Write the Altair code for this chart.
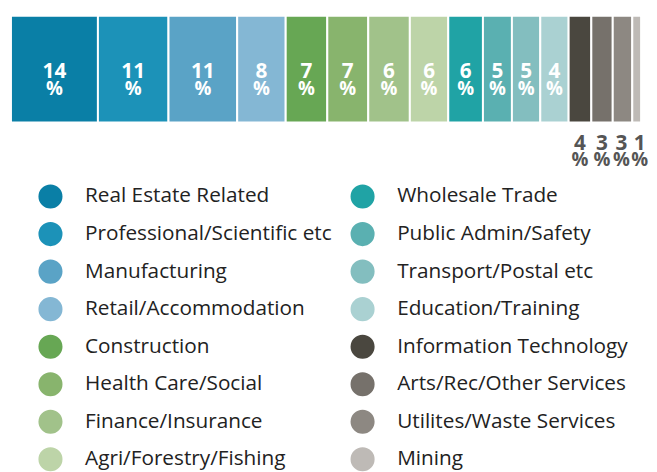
import altair as alt
import pandas as pd

sectors = [
    "Real Estate Related", "Professional/Scientific etc", "Manufacturing",
    "Retail/Accommodation", "Construction", "Health Care/Social",
    "Finance/Insurance", "Agri/Forestry/Fishing", "Wholesale Trade",
    "Public Admin/Safety", "Transport/Postal etc", "Education/Training",
    "Information Technology", "Arts/Rec/Other Services",
    "Utilites/Waste Services", "Mining",
]
shares = [13.8, 11.2, 10.9, 7.7, 6.6, 6.5, 6.6, 6.1, 5.5, 4.6, 4.5, 4.5,
          3.6, 3.4, 3.1, 1.4]
labels = [14, 11, 11, 8, 7, 7, 6, 6, 6, 5, 5, 4, 4, 3, 3, 1]
colors = [
    "#0a7fa6", "#1c92b8", "#5aa3c6", "#84b7d4", "#67a754", "#88b46d",
    "#a1c28a", "#bdd4a8", "#20a3a5", "#5ab0b1", "#83bebf", "#aad1d2",
    "#4a473f", "#76716b", "#8d8882", "#bebab6",
]

df = pd.DataFrame({
    "sector": sectors,
    "share": shares,
    "label": [str(v) for v in labels],
    "idx": list(range(len(sectors))),
})
df["col"] = df["idx"] // 8
df["row"] = df["idx"] % 8

total = sum(shares)
color_scale = alt.Scale(domain=sectors, range=colors)
xscale = alt.Scale(domain=[0, total], range=[3, 641], nice=False)

base = alt.Chart(df).transform_stack(
    stack="share", groupby=[], as_=["x0", "x1"],
    sort=[alt.SortField("idx", order="ascending")],
).transform_calculate(mid="(datum.x0 + datum.x1) / 2")

bars = base.mark_bar(stroke="white", strokeWidth=2).encode(
    x=alt.X("x0:Q", scale=xscale, axis=None),
    x2="x1:Q",
    y=alt.value(5),
    y2=alt.value(113),
    color=alt.Color("sector:N", scale=color_scale, legend=None),
)

inside = base.transform_filter("datum.idx < 12")

num_font = dict(font="Open Sans", fontWeight="bold", fontSize=21,
                baseline="middle", align="center")
pct_font = dict(font="Open Sans", fontWeight="bold", fontSize=19,
                baseline="middle", align="center")

num_in = inside.mark_text(color="white", **num_font).encode(
    x=alt.X("mid:Q", scale=xscale), y=alt.value(62), text="label:N")
pct_in = inside.mark_text(color="white", **pct_font).encode(
    x=alt.X("mid:Q", scale=xscale), y=alt.value(79), text=alt.value("%"))

layers = [bars, num_in, pct_in]
# small segments: labels sit below the bar, nudged apart slightly
for lo, hi, shift in [(12, 14, 0), (14, 15, -1), (15, 16, 3)]:
    sub = base.transform_filter(f"datum.idx >= {lo} && datum.idx < {hi}")
    layers.append(sub.mark_text(color="#555555", dx=shift, **num_font).encode(
        x=alt.X("mid:Q", scale=xscale), y=alt.value(135), text="label:N"))
    layers.append(sub.mark_text(color="#555555", dx=shift, **pct_font).encode(
        x=alt.X("mid:Q", scale=xscale), y=alt.value(151), text=alt.value("%")))

top = alt.layer(*layers).properties(width=641, height=160)

lx = alt.Scale(domain=[0, 1], range=[43, 359])
ly = alt.Scale(domain=[0, 7], range=[27, 293])

dots = alt.Chart(df).mark_circle(size=594, opacity=1).encode(
    x=alt.X("col:Q", scale=lx, axis=None),
    y=alt.Y("row:Q", scale=ly, axis=None),
    color=alt.Color("sector:N", scale=color_scale, legend=None),
)
names = alt.Chart(df).mark_text(
    font="Open Sans", fontSize=21, color="#222222", align="left",
    baseline="middle", dx=35,
).encode(
    x=alt.X("col:Q", scale=lx, axis=None),
    y=alt.Y("row:Q", scale=ly, axis=None),
    text="sector:N",
)
legend = alt.layer(dots, names).properties(width=641, height=296)

chart = alt.vconcat(top, legend, spacing=0).properties(padding=0).configure_view(
    stroke=None
)

chart.save("out.html", embed_options={"renderer": "svg", "actions": False})
